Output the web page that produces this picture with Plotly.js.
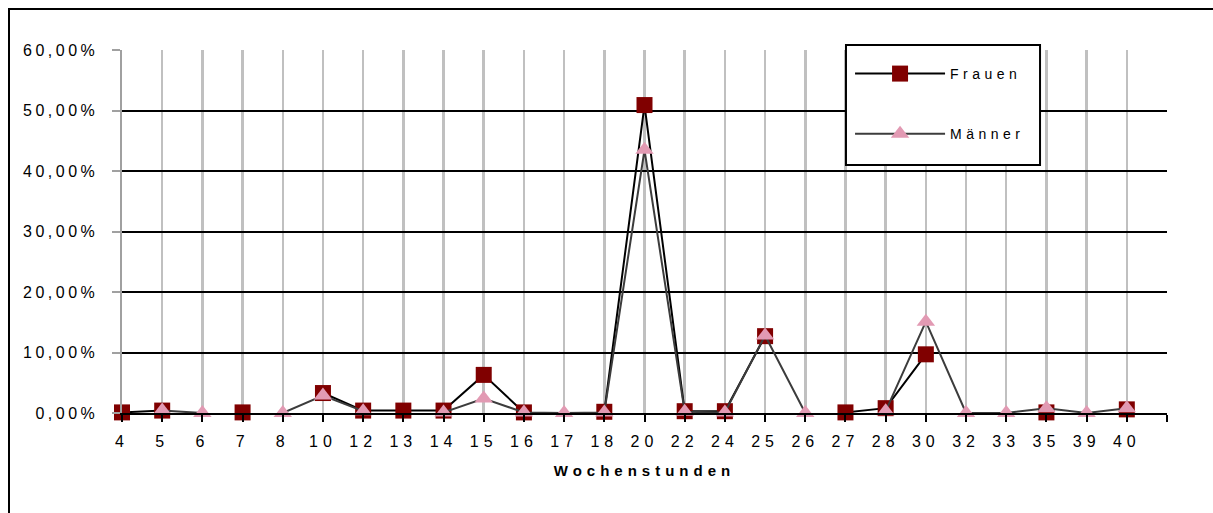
<!DOCTYPE html>
<html>
<head>
<meta charset="utf-8">
<script src="https://cdn.plot.ly/plotly-3.0.1.min.js"></script>
<style>
  html, body { margin: 0; padding: 0; background: #fff; overflow: hidden; }
  #frame { position: absolute; left: 8px; top: 8px; width: 1230px; height: 530px; border: 2px solid #000; box-sizing: border-box; pointer-events: none; z-index: 5; }
  #chart { position: absolute; left: 0; top: 0; width: 1213px; height: 513px; }
  #chart .ytick text { letter-spacing: 3.5px; }
  #chart .xtick text { letter-spacing: 5px; }
  #chart .xtitle { letter-spacing: 5px; }
  #chart .legendtext { letter-spacing: 4.5px; }
  #chart .legend .scrollbox, #chart .legend g { clip-path: none !important; }
</style>
</head>
<body>
<div id="chart"></div>
<div id="frame"></div>
<script>
const categories = ["4","5","6","7","8","10","12","13","14","15","16","17","18","20","22","24","25","26","27","28","30","32","33","35","39","40"];
const frauen = [0.001,0.004,null,0.001,null,0.033,0.004,0.004,0.004,0.063,0.001,null,0.002,0.509,0.003,0.003,0.127,null,0.001,0.008,0.097,null,null,0.001,null,0.006];
const maenner = [null,0.004,0.0,null,0.0,0.029,0.003,null,0.001,0.024,0.001,0.0,0.001,0.435,0.002,0.001,0.128,0.0,null,0.003,0.151,0.0,0.0,0.008,0.0,0.008];
const yTicks = [0,0.1,0.2,0.3,0.4,0.5,0.6];

const font = "Liberation Sans, Arial, sans-serif";
const pos = categories.map((c, i) => i);

const traces = [
  {
    name: "Frauen", x: pos, y: frauen, type: "scatter", mode: "lines+markers",
    line: {color: "#000000", width: 2}, marker: {symbol: "square", size: 16, color: "#800000"},
    cliponaxis: false, connectgaps: false, legendgroup: "f"
  },
  {
    name: "M\u00e4nner", x: pos, y: maenner, type: "scatter", mode: "lines+markers",
    line: {color: "#3c3c3c", width: 2}, marker: {symbol: "triangle-up", size: 16, color: "#e29ab3"},
    cliponaxis: false, connectgaps: false, legendgroup: "m"
  }
];

const layout = {
  width: 1213, height: 513,
  margin: {l: 122, r: 46, t: 50, b: 100},
  paper_bgcolor: "#ffffff", plot_bgcolor: "#ffffff",
  separators: ",.",
  font: {family: font, size: 16, color: "#000"},
  showlegend: true,
  legend: {
    x: 0.6967, y: 0.978, xanchor: "left", yanchor: "top",
    bgcolor: "rgba(0,0,0,0)", borderwidth: 0,
    font: {family: font, size: 14, color: "#000"},
    tracegroupgap: 39, traceorder: "grouped", itemwidth: 90
  },
  shapes: [{
    type: "rect", xref: "paper", yref: "paper", layer: "above",
    x0: 0.6928, x1: 0.8785, y0: 0.6832, y1: 1.0138,
    fillcolor: "#ffffff", line: {color: "#000000", width: 2}
  }],
  xaxis: {
    type: "linear",
    range: [0, 26],
    tickmode: "array",
    tickvals: pos.concat([pos.length]),
    ticktext: categories.concat([""]),
    showgrid: true, gridcolor: "#c0c0c0", gridwidth: 2.5,
    showline: true, linecolor: "#000000", linewidth: 2,
    ticks: "outside", ticklen: 7, tickwidth: 2, tickcolor: "#000",
    ticklabelstandoff: 6,
    tickfont: {family: font, size: 16, color: "#000"},
    zeroline: false,
    title: {text: "<b>Wochenstunden</b>", font: {family: font, size: 15, color: "#000"}, standoff: 16}
  },
  yaxis: {
    range: [0, 0.6],
    tickmode: "array", tickvals: yTicks, tickformat: ".2%",
    showgrid: true, gridcolor: "#000000", gridwidth: 2,
    showline: true, linecolor: "#a0a0a0", linewidth: 2.5,
    ticks: "outside", ticklen: 8, tickwidth: 2, tickcolor: "#a0a0a0",
    ticklabelstandoff: 10,
    tickfont: {family: font, size: 16, color: "#000"},
    zeroline: false
  }
};

Plotly.newPlot("chart", traces, layout, {displayModeBar: false, staticPlot: true});
</script>
</body>
</html>
